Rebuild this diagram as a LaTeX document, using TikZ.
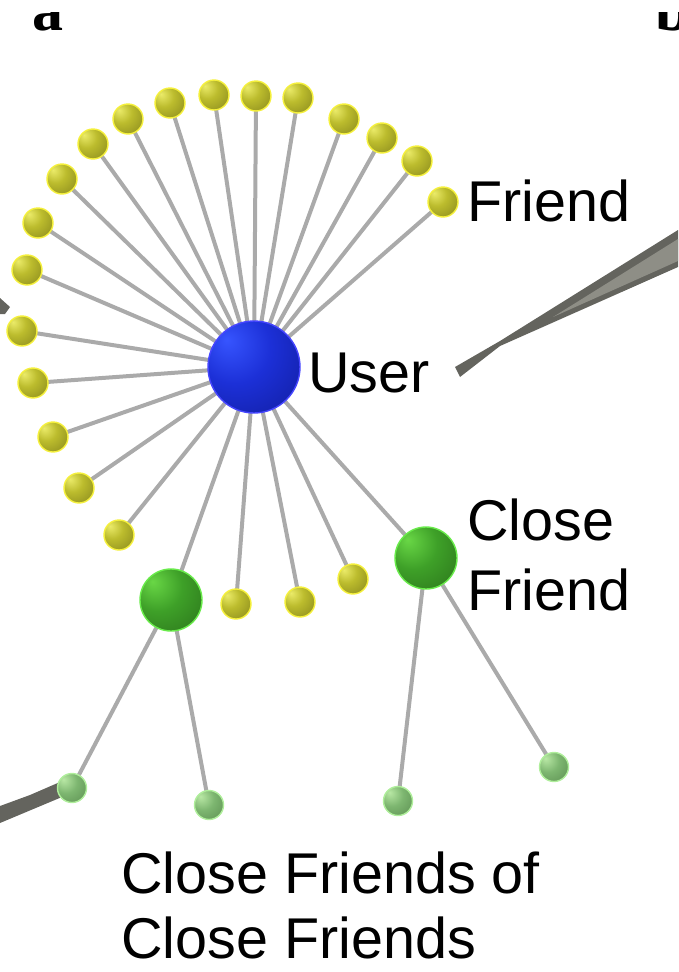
\documentclass[tikz,border=0pt]{standalone}
\usepackage{fontspec}
\setmainfont{Liberation Sans}
\newfontfamily\letterfont{Liberation Serif}
\pgfdeclarelayer{bg}
\pgfsetlayers{bg,main}
\definecolor{yL}{RGB}{235,235,105}
\definecolor{yM}{RGB}{188,188,45}
\definecolor{yD}{RGB}{125,125,25}
\definecolor{yB}{RGB}{245,240,60}
\definecolor{bL}{RGB}{55,85,255}
\definecolor{bM}{RGB}{28,48,215}
\definecolor{bD}{RGB}{15,25,150}
\definecolor{bB}{RGB}{70,70,255}
\definecolor{gL}{RGB}{105,215,70}
\definecolor{gM}{RGB}{62,160,40}
\definecolor{gD}{RGB}{40,108,25}
\definecolor{gB}{RGB}{105,235,75}
\definecolor{lL}{RGB}{185,232,165}
\definecolor{lM}{RGB}{125,182,112}
\definecolor{lD}{RGB}{85,135,75}
\definecolor{lB}{RGB}{175,238,155}
\definecolor{edgegray}{RGB}{170,170,170}
\definecolor{wedgeD}{RGB}{100,100,94}
\definecolor{wedgeL}{RGB}{142,142,134}
\pgfdeclareradialshading{shY}{\pgfpoint{-15bp}{15bp}}{color(0bp)=(yL); color(18bp)=(yM); color(50bp)=(yD); color(75bp)=(yD)}
\pgfdeclareradialshading{shB}{\pgfpoint{-15bp}{15bp}}{color(0bp)=(bL); color(20bp)=(bM); color(50bp)=(bD); color(75bp)=(bD)}
\pgfdeclareradialshading{shG}{\pgfpoint{-15bp}{15bp}}{color(0bp)=(gL); color(20bp)=(gM); color(50bp)=(gD); color(75bp)=(gD)}
\pgfdeclareradialshading{shL}{\pgfpoint{-15bp}{15bp}}{color(0bp)=(lL); color(20bp)=(lM); color(50bp)=(lD); color(75bp)=(lD)}
\tikzset{
  ball/.style={circle, inner sep=0pt, line width=1.4pt},
  fr/.style={ball, minimum size=30pt, shading=shY, draw=yB},
  usr/.style={ball, minimum size=92pt, shading=shB, draw=bB},
  cf/.style={ball, minimum size=62pt, shading=shG, draw=gB},
  cff/.style={ball, minimum size=29pt, shading=shL, draw=lB},
  link/.style={draw=edgegray, line width=4pt},
  lab/.style={anchor=base west, inner sep=0pt, font=\fontsize{57.5}{60}\selectfont},
  panel/.style={anchor=base west, inner sep=0pt, font=\letterfont\bfseries\fontsize{62}{62}\selectfont}
}
\begin{document}
\begin{tikzpicture}[x=1pt,y=-1pt]
\useasboundingbox (0,0) rectangle (678,972);
% panel letters (cropped, as in the reference)
\begin{scope}
\clip (0,12) rectangle (678,972);
\node[panel] (pa) at (32,30) {a};
\node[panel] (pb) at (655,30) {b};
\end{scope}
% callout wedges
\fill[wedgeD] (455,367) -- (460,377) -- (500,346) -- (678,267) -- (678,230) -- (500,341) -- cycle;
\fill[wedgeL] (553,317) -- (678,261) -- (678,239) -- cycle;
\fill[wedgeD] (0,298) -- (10,307) -- (5,314) -- (0,314) -- cycle;
\fill[wedgeD] (0,806) -- (30,795) -- (60,782) -- (62,797) -- (0,823) -- cycle;
% nodes
\node[usr] (u) at (254,367) {};
\node[fr] (y1) at (443,202) {};
\node[fr] (y2) at (417,161) {};
\node[fr] (y3) at (382,138) {};
\node[fr] (y4) at (344,119) {};
\node[fr] (y5) at (298,98) {};
\node[fr] (y6) at (256,96) {};
\node[fr] (y7) at (214,95) {};
\node[fr] (y8) at (170,103) {};
\node[fr] (y9) at (128,119) {};
\node[fr] (y10) at (93,144) {};
\node[fr] (y11) at (62,179) {};
\node[fr] (y12) at (38,223) {};
\node[fr] (y13) at (27,270) {};
\node[fr] (y14) at (22,331) {};
\node[fr] (y15) at (33,383) {};
\node[fr] (y16) at (53,437) {};
\node[fr] (y17) at (79,488) {};
\node[fr] (y18) at (119,535) {};
\node[fr] (y19) at (236,604) {};
\node[fr] (y20) at (300,602) {};
\node[fr] (y21) at (353,579) {};
\node[cf] (g1) at (171,600) {};
\node[cf] (g2) at (426,558) {};
\node[cff] (l1) at (72,788) {};
\node[cff] (l2) at (209,805) {};
\node[cff] (l3) at (398,801) {};
\node[cff] (l4) at (554,767) {};
% labels
\node[lab] (tF) at (467,221) {Friend};
\node[lab] (tU) at (308,392) {User};
\node[lab] (tC1) at (467,540) {Close};
\node[lab] (tC2) at (467,610) {Friend};
\node[lab] (tB1) at (121,893) {Close Friends of};
\node[lab] (tB2) at (121,958) {Close Friends};
% links
\begin{pgfonlayer}{bg}
\foreach \i in {1,...,21} {\draw[link] (u.center) -- (y\i.center);}
\draw[link] (u.center) -- (g1.center);
\draw[link] (u.center) -- (g2.center);
\draw[link] (g1.center) -- (l1.center);
\draw[link] (g1.center) -- (l2.center);
\draw[link] (g2.center) -- (l3.center);
\draw[link] (g2.center) -- (l4.center);
\end{pgfonlayer}
\end{tikzpicture}
\end{document}
